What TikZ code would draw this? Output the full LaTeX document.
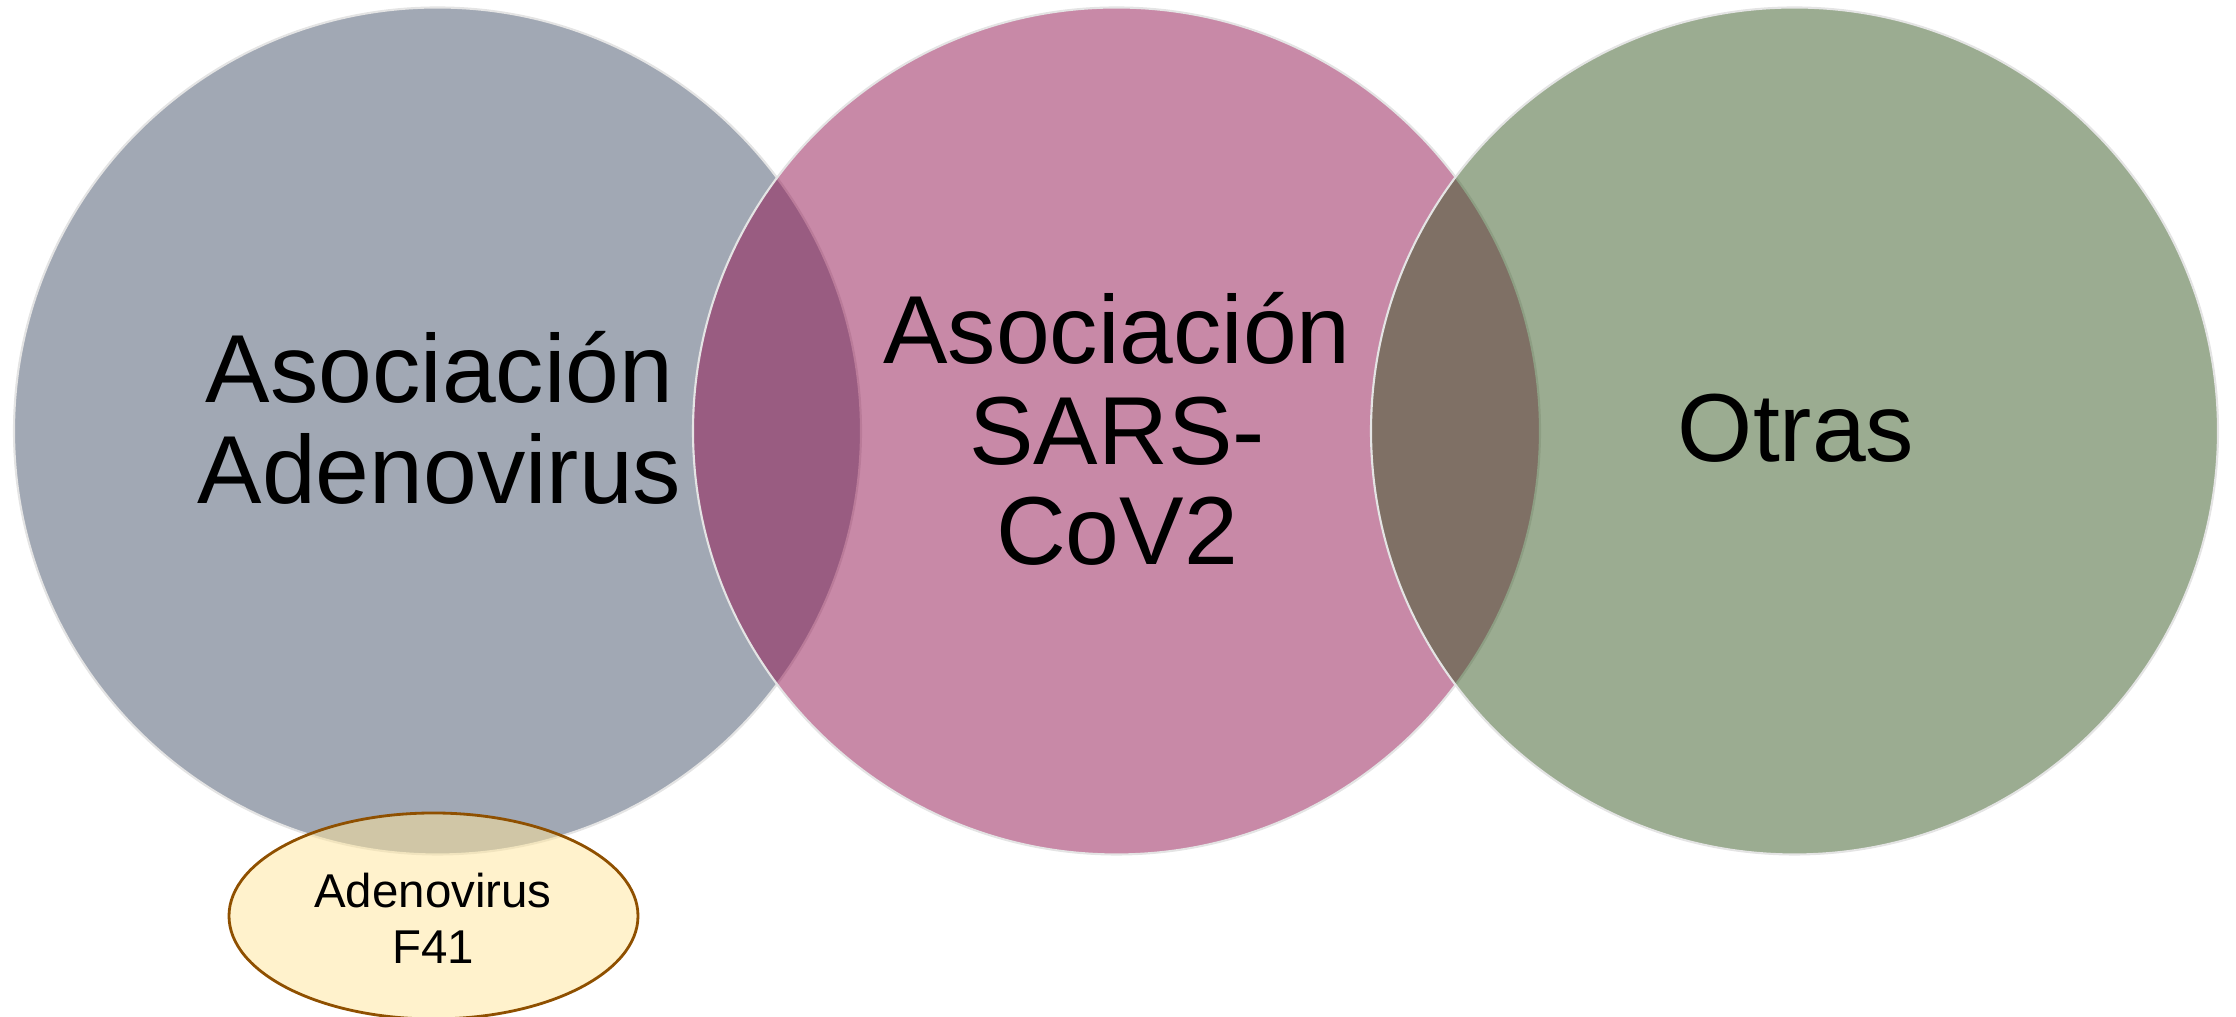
\documentclass[tikz,border=0pt]{standalone}
\usepackage{fontspec}
\setmainfont{Liberation Sans}
\definecolor{grisAzul}{HTML}{435169}
\definecolor{rosaViejo}{HTML}{911350}
\definecolor{verdeOliva}{HTML}{375923}
\definecolor{amarilloF}{HTML}{FFE599}
\definecolor{bordeF}{HTML}{8F5000}
\definecolor{bordeC}{HTML}{E4E4E4}
\tikzset{
  circulo/.style={draw=bordeC, line width=0.6pt, fill opacity=0.5},
  textoGrande/.style={align=center, inner sep=0pt, font=\fontsize{27.5}{28.7}\selectfont},
  textoChico/.style={align=center, inner sep=0pt, font=\fontsize{13.5}{16}\selectfont}
}
\begin{document}
\begin{tikzpicture}
            \useasboundingbox (0,0) rectangle (22.36,10.17);

            % 三个圆
            \filldraw[circulo, fill=grisAzul] (4.375,5.86) circle (4.235);
            \filldraw[circulo, fill=rosaViejo] (11.165,5.86) circle (4.235);
            \filldraw[circulo, fill=verdeOliva] (17.945,5.86) circle (4.235);

            % 下方椭圆
            \filldraw[draw=bordeF, line width=0.8pt, fill=amarilloF, fill opacity=0.5] (4.335,1.01) ellipse (2.045 and 1.03);

            % 文字
            \node[textoGrande] (adeno) at (4.395,5.99) {Asociación\\Adenovirus};
            \node[textoGrande] (sars) at (11.17,5.88) {Asociación\\SARS-\\CoV2};
            \node[textoGrande] (otras) at (17.96,5.89) {Otras};
            \node[textoChico] (f41) at (4.33,0.99) {Adenovirus\\F41};
        \end{tikzpicture}
\end{document}
